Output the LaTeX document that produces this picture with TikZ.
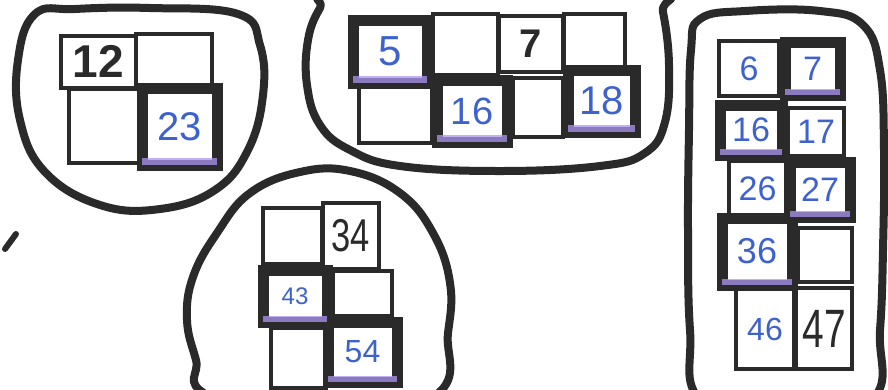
\documentclass[tikz,border=0pt]{standalone}
\usepackage{fontspec}
\setmainfont{Liberation Sans}
\definecolor{ink}{RGB}{42,42,42}
\definecolor{pen}{RGB}{62,98,205}
\definecolor{hl}{RGB}{172,150,240}
\newcommand{\fsz}[1]{\fontsize{#1}{#1}\selectfont}
\begin{document}
\begin{tikzpicture}[x=1pt,y=-1pt,
  cellthin/.style={draw=ink, line width=4pt, inner sep=0pt, fill=white},
  cellthick/.style={draw=ink, line width=11pt, inner sep=0pt, fill=white},
  blob/.style={draw=ink, line width=8pt, line join=round},
  pentext/.style={text=pen},
  markertext/.style={text=ink},
  hlbar/.style={fill=hl, fill opacity=0.75},
]
\useasboundingbox (0,0) rectangle (888,389);
\fill[white] (0,0) rectangle (888,389);
\begin{scope}
\clip (0,0) rectangle (888,389);
% blobs
\draw[blob] plot[smooth cycle, tension=0.7] coordinates {(35,14) (18,60) (20,120) (45,172) (100,205) (160,209) (215,190) (248,150) (263,95) (260,45) (238,14) (150,8) (75,9)};
\draw[blob] plot[smooth cycle, tension=0.7] coordinates {(320,8) (308,40) (307,85) (320,125) (350,150) (400,166) (500,171) (600,166) (645,153) (665,122) (669,65) (663,12) (655,-8) (490,-25) (335,-8)};
\draw[blob] plot[smooth cycle, tension=0.7] coordinates {(700,19) (745,11) (820,11) (863,25) (880,70) (884,150) (883,250) (880,330) (872,400) (780,430) (700,400) (690,330) (688,230) (689,130) (691,50)};
\draw[blob] plot[smooth cycle, tension=0.7] coordinates {(207,395) (196,360) (187,320) (193,277) (217,233) (250,193) (300,172) (350,171) (400,193) (433,233) (450,283) (448,333) (436,395) (320,430)};
\draw[ink, line width=6pt, line cap=round] (5,249) -- (16,234);

% cluster 1
\node[cellthin, minimum width=76pt, minimum height=52pt, markertext, font=\bfseries\fsz{46}] (a12) at (98.5,61.5) {12};
\node[cellthin, minimum width=76pt, minimum height=51pt] (a02) at (173.5,59) {};
\node[cellthin, minimum width=71pt, minimum height=74pt] (a21) at (104,125.5) {};
\node[cellthick, minimum width=75pt, minimum height=77pt, pentext, font=\fsz{40}] (a23) at (179.5,126.5) {23};
\fill[hlbar] ([xshift=5.5pt,yshift=5.5pt]a23.south west) rectangle ([xshift=-5.5pt,yshift=13pt]a23.south east);

% cluster 2
\node[cellthin, minimum width=65pt, minimum height=61pt] (b2) at (465,44) {};
\node[cellthin, minimum width=64pt, minimum height=56pt, markertext, font=\bfseries\fsz{40}] (b7) at (530.5,43.5) {7};
\node[cellthin, minimum width=61pt, minimum height=53pt] (b4) at (594,40) {};
\node[cellthin, minimum width=73pt, minimum height=59pt] (b11) at (395,113) {};
\node[cellthin, minimum width=50pt, minimum height=59pt] (b13) at (537.5,107) {};
\node[cellthick, minimum width=74pt, minimum height=63pt, pentext, font=\fsz{42}] (b5) at (390,51.5) {5};
\node[cellthick, minimum width=70pt, minimum height=62pt, pentext, font=\fsz{38}] (b16) at (472,111) {16};
\node[cellthick, minimum width=67pt, minimum height=62pt, pentext, font=\fsz{40}] (b18) at (601.5,101) {18};
\foreach \n in {b5,b16,b18}
  \fill[hlbar] ([xshift=5.5pt,yshift=5.5pt]\n.south west) rectangle ([xshift=-5.5pt,yshift=13pt]\n.south east);

% cluster 3
\node[cellthin, minimum width=60pt, minimum height=55pt, pentext, font=\fsz{34}] (c6) at (749,68.5) {6};
\node[cellthin, minimum width=56pt, minimum height=48pt, pentext, font=\fsz{34}] (c17) at (816,132) {17};
\node[cellthin, minimum width=57pt, minimum height=55pt, pentext, font=\fsz{34}] (c26) at (757.5,188.5) {26};
\node[cellthin, minimum width=54pt, minimum height=54pt] (c37) at (825,255) {};
\node[cellthin, minimum width=58pt, minimum height=80pt, pentext, font=\fsz{32}] (c46) at (765,329) {46};
\node[cellthin, minimum width=56pt, minimum height=81pt, markertext, font=\fsz{54}] (c47) at (824,328.5) {\scalebox{0.72}[1]{47}};
\node[cellthick, minimum width=55pt, minimum height=53pt, pentext, font=\fsz{34}] (c7) at (812.5,68.5) {7};
\node[cellthick, minimum width=62pt, minimum height=50pt, pentext, font=\fsz{34}] (c16) at (751,130) {16};
\node[cellthick, minimum width=60pt, minimum height=55pt, pentext, font=\fsz{34}] (c27) at (820,189.5) {27};
\node[cellthick, minimum width=70pt, minimum height=67pt, pentext, font=\fsz{36}] (c36) at (757,251.5) {36};
\foreach \n in {c7,c16,c27,c36}
  \fill[hlbar] ([xshift=5.5pt,yshift=5.5pt]\n.south west) rectangle ([xshift=-5.5pt,yshift=12pt]\n.south east);

% cluster 4
\node[cellthin, minimum width=59pt, minimum height=56pt] (d1) at (292.5,236) {};
\node[cellthin, minimum width=56pt, minimum height=66pt, markertext, font=\fsz{46}] (d34) at (351,236) {\scalebox{0.75}[1]{34}};
\node[cellthin, minimum width=59pt, minimum height=45pt] (d4) at (362.5,293.5) {};
\node[cellthin, minimum width=55pt, minimum height=60pt] (d5) at (298.5,358) {};
\node[cellthick, minimum width=64pt, minimum height=52pt, pentext, font=\fsz{24}] (d43) at (295,296) {43};
\node[cellthick, minimum width=69pt, minimum height=60pt, pentext, font=\fsz{32}] (d54) at (362.5,352) {54};
\foreach \n in {d43,d54}
  \fill[hlbar] ([xshift=5.5pt,yshift=5.5pt]\n.south west) rectangle ([xshift=-5.5pt,yshift=12pt]\n.south east);
\end{scope}
\end{tikzpicture}
\end{document}
